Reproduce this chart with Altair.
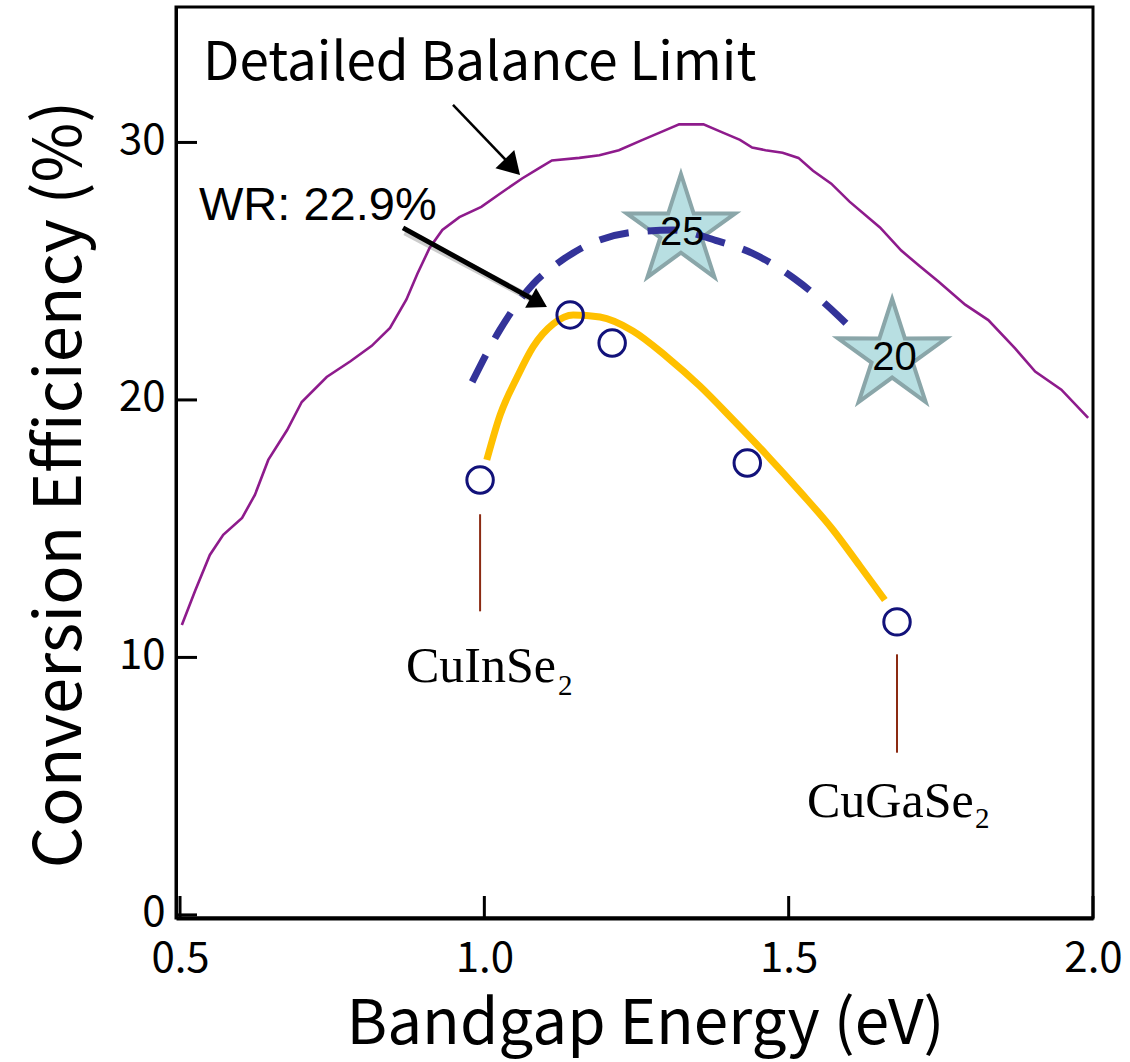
import math
import altair as alt
import pandas as pd

# ---------------- data ----------------
# Detailed balance limit (purple)
dbl_E = [0.503, 0.525, 0.549, 0.571, 0.602, 0.623, 0.645, 0.676, 0.700, 0.741,
         0.78, 0.815, 0.845, 0.872, 0.89, 0.91, 0.931, 0.959, 0.995, 1.025,
         1.062, 1.09, 1.111, 1.156, 1.189, 1.221, 1.26, 1.29, 1.32, 1.36,
         1.39, 1.42, 1.44, 1.462, 1.49, 1.516, 1.54, 1.57, 1.60, 1.65,
         1.685, 1.715, 1.746, 1.79, 1.828, 1.872, 1.905, 1.948, 1.992]
dbl_eff = [11.26, 12.6, 13.98, 14.76, 15.42, 16.31, 17.67, 18.83, 19.92, 20.89,
           21.5, 22.1, 22.8, 23.9, 24.9, 25.9, 26.6, 27.1, 27.5, 28.0,
           28.6, 29.0, 29.3, 29.4, 29.5, 29.7, 30.1, 30.4, 30.7, 30.7,
           30.4, 30.1, 29.8, 29.7, 29.6, 29.4, 28.9, 28.4, 27.7, 26.7,
           25.8, 25.2, 24.6, 23.7, 23.1, 22.0, 21.1, 20.4, 19.3]

# dashed blue curve
dash_E = [0.98, 1.025, 1.08, 1.12, 1.16, 1.24, 1.31, 1.38, 1.44, 1.51, 1.58, 1.61]
dash_eff = [20.7, 22.7, 24.5, 25.3, 25.9, 26.5, 26.6, 26.2, 25.7, 24.7, 23.3, 22.6]

# yellow fit curve
fit_E = [1.004, 1.026, 1.054, 1.080, 1.113, 1.146, 1.190, 1.244, 1.300, 1.354,
         1.409, 1.464, 1.519, 1.573, 1.617, 1.658]
fit_eff = [17.67, 19.42, 20.89, 22.06, 22.95, 23.30, 23.22, 22.68, 21.67, 20.54,
           19.22, 17.86, 16.43, 14.95, 13.55, 12.23]

# measured cells (open circles)
cell_E = [0.993, 1.141, 1.210, 1.432, 1.678]
cell_eff = [16.89, 23.30, 22.21, 17.55, 11.38]

# target stars
star_E = [1.323, 1.670]
star_eff = [26.56, 21.71]
star_label = ["25", "20"]
star_label_E = [1.325, 1.674]
star_label_eff = [26.02, 21.17]

# compound marker lines
mk_E = [0.993, 1.678]
mk_top = [15.56, 10.12]
mk_bot = [11.79, 6.30]

# compound labels
cmp_text = ["CuInSe", "CuGaSe"]
cmp_E = [0.8713, 1.5301]
cmp_eff = [9.05, 3.81]
sub_text = ["2", "2"]
sub_E = [1.121, 1.806]
sub_eff = [8.54, 3.38]

# annotation texts
ann1_text = ["Detailed Balance Limit"]
ann1_E = [0.5378]
ann1_eff = [32.43]
ann2_text = ["WR: 22.9%"]
ann2_E = [0.5312]
ann2_eff = [26.99]

# arrows: start, shaft end, tip
arr1_start = (0.9485, 31.46)
arr1_shaft = (1.0473, 29.02)
arr1_tip = (1.0586, 28.74)
arr2_start = (0.8664, 26.68)
arr2_shaft = (1.0885, 23.80)
arr2_tip = (1.1029, 23.61)

# axes
x_ticks = [0.5, 1.0, 1.5, 2.0]
y_ticks = [0, 10, 20, 30]

# ---------------- scales / axes ----------------
FONT = "Noto Sans CJK JP"
xs = alt.Scale(domain=[0.4934, 2.0], nice=False, zero=False)
ys = alt.Scale(domain=[-0.12, 35.26], nice=False, zero=False)

xaxis = alt.Axis(values=x_ticks, format=".1f", ticks=False, tickSize=0, grid=False,
                 labelFont=FONT, labelFontSize=42, labelColor="black",
                 labelPadding=20, labelFlush=False, labelOverlap=False,
                 domainColor="black", domainWidth=4,
                 title="Bandgap Energy (eV)", titleFont=FONT, titleFontSize=62,
                 titleFontWeight="normal", titleColor="black",
                 titleX=469, titleY=125, titleBaseline="alphabetic", titleAlign="center")
yaxis = alt.Axis(values=y_ticks, format="d", ticks=False, tickSize=0, grid=False,
                 labelFont=FONT, labelFontSize=42, labelColor="black",
                 labelPadding=11, labelBaseline="alphabetic", labelOffset=11,
                 labelOverlap=False,
                 domainColor="black", domainWidth=3,
                 title="Conversion Efficiency (%)", titleFont=FONT, titleFontSize=65,
                 titleFontWeight="normal", titleColor="black",
                 titleX=-96, titleY=477, titleAngle=-90,
                 titleBaseline="alphabetic", titleAlign="center")


def X(field="E"):
    return alt.X(f"{field}:Q", scale=xs, axis=xaxis)


def Y(field="eff"):
    return alt.Y(f"{field}:Q", scale=ys, axis=yaxis)


# ---------------- layers ----------------
dbl = pd.DataFrame({"E": dbl_E, "eff": dbl_eff})
purple = alt.Chart(dbl).mark_line(color="#8E1B8C", strokeWidth=2.6).encode(x=X(), y=Y())

# star shape (unit outer radius, inner ratio 0.38)
pts = []
for k in range(10):
    r = 1.0 if k % 2 == 0 else 0.38
    a = math.radians(-90 + 36 * k)
    pts.append(f"{r*math.cos(a):.4f},{r*math.sin(a):.4f}")
star_path = "M" + " L".join(pts) + " Z"

stars_df = pd.DataFrame({"E": star_E, "eff": star_eff})
stars = alt.Chart(stars_df).mark_point(
    shape=star_path, size=13000, filled=True, fill="#B8DFE2", stroke="#8AA6A9",
    strokeWidth=4, opacity=1, strokeJoin="miter"
).encode(x=X(), y=Y())

dash_df = pd.DataFrame({"E": dash_E, "eff": dash_eff})
dashed = alt.Chart(dash_df).mark_line(
    color="#333399", strokeWidth=7, strokeDash=[30, 19], interpolate="monotone"
).encode(x=X(), y=Y())

fit_df = pd.DataFrame({"E": fit_E, "eff": fit_eff})
fit = alt.Chart(fit_df).mark_line(
    color="#FFC000", strokeWidth=7, interpolate="monotone"
).encode(x=X(), y=Y())

cells_df = pd.DataFrame({"E": cell_E, "eff": cell_eff})
cells = alt.Chart(cells_df).mark_point(
    shape="circle", size=700, filled=False, color="#12127A", strokeWidth=3, opacity=1
).encode(x=X(), y=Y())

mk_df = pd.DataFrame({"E": mk_E, "eff": mk_top, "eff2": mk_bot})
markers = alt.Chart(mk_df).mark_rule(color="#8B2A12", strokeWidth=2).encode(
    x=X(), y=Y(), y2="eff2:Q")

# arrows
arr_df = pd.DataFrame({
    "E": [arr1_start[0], arr2_start[0]],
    "eff": [arr1_start[1], arr2_start[1]],
    "E2": [arr1_shaft[0], arr2_shaft[0]],
    "eff2": [arr1_shaft[1], arr2_shaft[1]],
})
shadow = alt.Chart(arr_df.iloc[[1]]).mark_rule(
    color="#555555", opacity=0.3, strokeWidth=7, xOffset=2, yOffset=4
).encode(x=X(), y=Y(), x2="E2:Q", y2="eff2:Q")
shafts1 = alt.Chart(arr_df.iloc[[0]]).mark_rule(color="black", strokeWidth=2.5).encode(
    x=X(), y=Y(), x2="E2:Q", y2="eff2:Q")
shafts2 = alt.Chart(arr_df.iloc[[1]]).mark_rule(color="black", strokeWidth=5).encode(
    x=X(), y=Y(), x2="E2:Q", y2="eff2:Q")

head_path = "M0,0 L-0.6,1 L0.6,1 Z"
head1 = alt.Chart(pd.DataFrame({"E": [arr1_tip[0]], "eff": [arr1_tip[1]]})).mark_point(
    shape=head_path, size=1900, filled=True, color="black", opacity=1, angle=136
).encode(x=X(), y=Y())
head2 = alt.Chart(pd.DataFrame({"E": [arr2_tip[0]], "eff": [arr2_tip[1]]})).mark_point(
    shape=head_path, size=1400, filled=True, color="black", opacity=1, angle=119
).encode(x=X(), y=Y())

# custom inward ticks
xt = alt.Chart(pd.DataFrame({"E": x_ticks})).mark_rule(color="black", strokeWidth=3).encode(
    x=X(), y=alt.value(911), y2=alt.value(889))
yt = alt.Chart(pd.DataFrame({"eff": y_ticks})).mark_rule(color="black", strokeWidth=3).encode(
    y=Y(), x=alt.value(0), x2=alt.value(21))

# texts
star_txt = alt.Chart(pd.DataFrame({"E": star_label_E, "eff": star_label_eff, "t": star_label})).mark_text(
    font="Liberation Sans", fontSize=40, color="black", align="center", baseline="alphabetic"
).encode(x=X(), y=Y(), text="t:N")

cmp_txt = alt.Chart(pd.DataFrame({"E": cmp_E, "eff": cmp_eff, "t": cmp_text})).mark_text(
    font="Liberation Serif", fontSize=50, color="black", align="left", baseline="alphabetic"
).encode(x=X(), y=Y(), text="t:N")
sub_txt = alt.Chart(pd.DataFrame({"E": sub_E, "eff": sub_eff, "t": sub_text})).mark_text(
    font="Liberation Serif", fontSize=29, color="black", align="left", baseline="alphabetic"
).encode(x=X(), y=Y(), text="t:N")

ann1 = alt.Chart(pd.DataFrame({"E": ann1_E, "eff": ann1_eff, "t": ann1_text})).mark_text(
    font=FONT, fontSize=53, color="black", align="left", baseline="alphabetic"
).encode(x=X(), y=Y(), text="t:N")
ann2 = alt.Chart(pd.DataFrame({"E": ann2_E, "eff": ann2_eff, "t": ann2_text})).mark_text(
    font="Liberation Sans", fontSize=47, color="black", align="left", baseline="alphabetic"
).encode(x=X(), y=Y(), text="t:N")

chart = alt.layer(
    purple, stars, dashed, fit, cells, markers, shadow, shafts1, shafts2, head1, head2,
    xt, yt, star_txt, cmp_txt, sub_txt, ann1, ann2
).properties(
    width=917, height=911,
    autosize=alt.AutoSizeParams(type="none"),
    padding={"left": 176, "top": 7, "right": 37, "bottom": 144},
    background="white",
).configure_view(
    stroke="black", strokeWidth=3
)

chart.save("out.html", embed_options={"renderer": "svg", "actions": False})
